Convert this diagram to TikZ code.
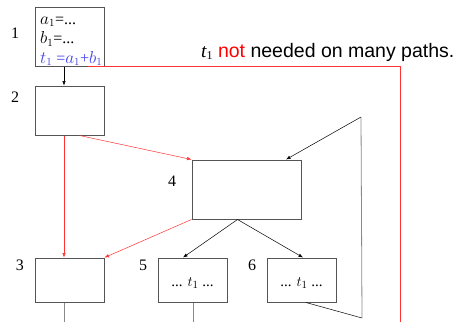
\documentclass[tikz,border=0pt]{standalone}
\usepackage{fontspec}
\setmainfont{Liberation Serif}
\setsansfont{Liberation Sans}
\usetikzlibrary{arrows.meta}
\definecolor{bordergray}{HTML}{555555}
\definecolor{linegray}{HTML}{8A8A8A}
\definecolor{redline}{HTML}{FF3333}
\definecolor{bluetext}{HTML}{4444EE}
\tikzset{
  blk/.style={draw=bordergray, line width=1pt, fill=white, inner sep=0pt},
  lbl/.style={font=\fontsize{16}{18}\selectfont, inner sep=0pt},
  btxt/.style={anchor=base west, inner sep=0pt, font=\fontsize{16}{18}\selectfont},
  dtxt/.style={inner sep=0pt, font=\fontsize{15}{17}\selectfont},
  arr/.style={-{Latex[length=4.5pt,width=3.5pt]}, line width=0.5pt},
  redarr/.style={arr, draw=redline, color=redline},
  tail/.style={draw=linegray, line width=0.8pt},
}
\begin{document}
\begin{tikzpicture}[x=1pt,y=-1pt]
\useasboundingbox (0,0) rectangle (462,322);
% boxes
\node[blk, minimum width=69pt, minimum height=59pt] (b1) at (69.5,36.5) {};
\node[blk, minimum width=69pt, minimum height=49pt] (b2) at (69.5,110.5) {};
\node[blk, minimum width=109pt, minimum height=59pt] (b4) at (246.5,189.5) {};
\node[blk, minimum width=69pt, minimum height=44pt] (b3) at (69.5,280) {};
\node[blk, minimum width=69pt, minimum height=44pt] (b5) at (192.5,280) {};
\node[blk, minimum width=69pt, minimum height=44pt] (b6) at (301.5,280) {};
% box 1 content
\node[btxt] (la) at (40,24) {$a_1$=...};
\node[btxt] (lb) at (40,43.5) {$b_1$=...};
\node[btxt, text=bluetext] (lt) at (40,63) {$t_1$ =$a_1$+$b_1$};
% box 5, 6 content
\node[dtxt] (t5) at (192.5,283) {... $t_1$ ...};
\node[dtxt] (t6) at (301.5,283) {... $t_1$ ...};
% labels
\node[lbl] (n1) at (15,33) {1};
\node[lbl] (n2) at (15,97) {2};
\node[lbl] (n4) at (172,181) {4};
\node[lbl] (n3) at (20,265) {3};
\node[lbl] (n5) at (143,265) {5};
\node[lbl] (n6) at (252,265) {6};
% caption
\node[anchor=base west, inner sep=0pt, font=\sffamily\fontsize{19.5}{22}\selectfont] (cap) at (201,57) {\rmfamily\itshape t\upshape\fontsize{12}{13}\selectfont\raisebox{-2.5pt}{1}\fontsize{19.5}{22}\selectfont\sffamily\ \textcolor{red}{not} needed on many paths.};
% coordinates
\coordinate (r1) at (400,66.5);
\coordinate (r2) at (400,322);
\coordinate (l1) at (362,318);
\coordinate (l2) at (361,117);
\coordinate (e3) at (64,322);
\coordinate (e5) at (193,322);
% connectors
\draw[arr] ([xshift=-5.5pt]b1.south) -- ([xshift=-5.5pt]b2.north);
\draw[draw=redline, line width=0.6pt] ([xshift=18pt]b1.south) -- (r1) -- (r2);
\draw[redarr] ([xshift=10pt]b2.south) -- (b4.north west);
\draw[redarr] ([xshift=-5.5pt]b2.south) -- ([xshift=-5.5pt]b3.north);
\draw[redarr] (b4.south west) -- (b3.north east);
\draw[arr] ([xshift=-9pt]b4.south) -- ([xshift=-9.5pt]b5.north);
\draw[arr] ([xshift=-9pt]b4.south) -- ([xshift=1.5pt]b6.north);
\draw[line width=0.5pt] ([xshift=4.5pt]b6.south) -- (l1);
\draw[tail] (l1) -- (l2);
\draw[arr] (l2) -- ([xshift=39.5pt]b4.north);
\draw[tail] ([xshift=-5.5pt]b3.south) -- (e3);
\draw[tail] ([xshift=0.5pt]b5.south) -- (e5);
\end{tikzpicture}
\end{document}
